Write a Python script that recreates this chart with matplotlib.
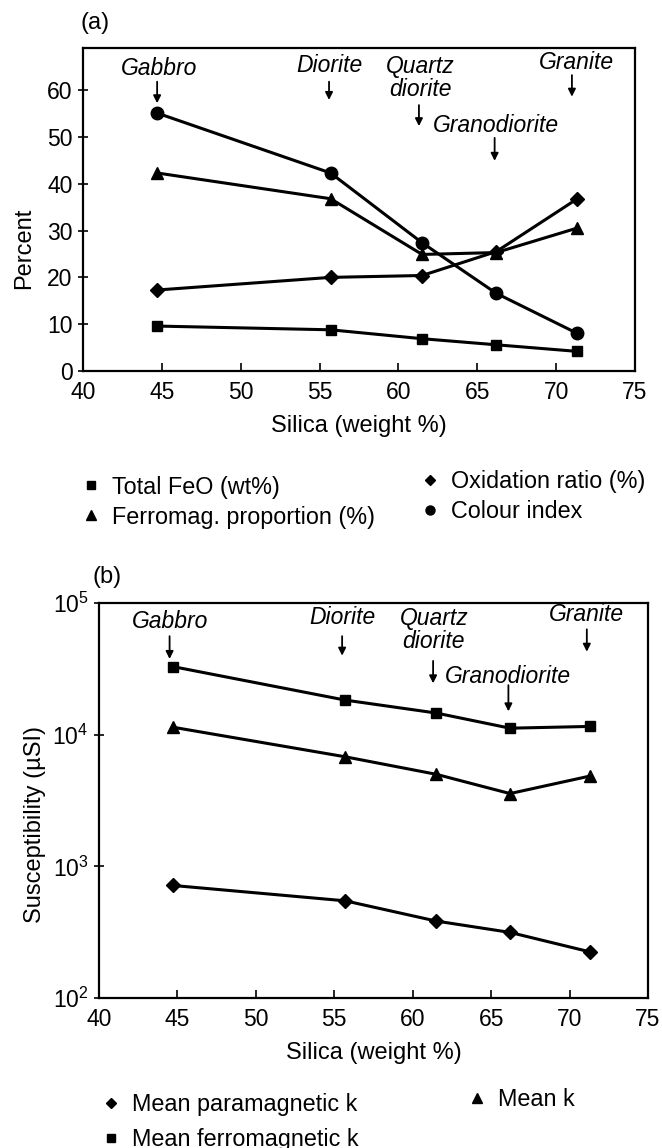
import matplotlib
matplotlib.use("Agg")
import matplotlib.pyplot as plt
from matplotlib.lines import Line2D
from matplotlib.ticker import NullLocator, LogLocator

plt.rcParams['font.family'] = ['Liberation Sans', 'DejaVu Sans']
plt.rcParams['mathtext.fontset'] = 'custom'
plt.rcParams['mathtext.rm'] = 'Liberation Sans'
plt.rcParams['mathtext.it'] = 'Liberation Sans:italic'

# ---------------- data ----------------
silica = [44.7, 55.7, 61.5, 66.2, 71.3]
rocks = ["Gabbro", "Diorite", "Quartz\ndiorite", "Granodiorite", "Granite"]

# panel (a)
total_feo = [9.6, 8.8, 6.9, 5.6, 4.2]
ferromag_prop = [42.3, 36.8, 24.9, 25.3, 30.5]
oxidation_ratio = [17.3, 20.0, 20.4, 25.5, 36.7]
colour_index = [55.1, 42.3, 27.4, 16.6, 8.1]

# panel (b)
mean_para_k = [716, 547, 384, 315, 224]
mean_k = [11400, 6790, 5000, 3570, 4850]
mean_ferro_k = [32900, 18300, 14600, 11200, 11550]

x_ticks = [40, 45, 50, 55, 60, 65, 70, 75]
y_ticks_a = [0, 10, 20, 30, 40, 50, 60]

# annotation layout (text x, text y, arrow start y, arrow end y)
ann_a = [(44.8, 64.6, 61.8, 57.2),
         (55.6, 65.3, 61.8, 57.9),
         (61.4, 62.6, 56.8, 52.3),
         (66.2, 52.4, 49.8, 44.9),
         (71.3, 66.0, 63.2, 58.6)]
ann_a_arrow_x = [44.7, 55.6, 61.3, 66.1, 71.0]
ann_b = [(44.5, 4.862, 4.748, 4.575),
         (55.5, 4.888, 4.748, 4.600),
         (61.35, 4.795, 4.56, 4.39),
         (66.1, 4.44, 4.376, 4.177),
         (71.1, 4.915, 4.80, 4.63)]
ann_b_arrow_x = [44.5, 55.5, 61.3, 66.1, 71.1]

W, H = 662, 1148
fig = plt.figure(figsize=(W / 100, H / 100), dpi=100)

def fx(px):
    return px / W

def fy(py):
    return 1 - py / H

FS_TICK = 16.5
FS_LAB = 17
FS_ANN = 16.5
FS_LEG = 16.8

axa = fig.add_axes([fx(83), fy(371), fx(635 - 83), (371 - 48) / H])
axb = fig.add_axes([fx(99), fy(998), fx(648 - 99), (998 - 603) / H])

lw = 2.2
axa.plot(silica, total_feo, color='k', lw=lw, marker='s', ms=7.5)
axa.plot(silica, ferromag_prop, color='k', lw=lw, marker='^', ms=9)
axa.plot(silica, oxidation_ratio, color='k', lw=lw, marker='D', ms=7)
axa.plot(silica, colour_index, color='k', lw=lw, marker='o', ms=9)

axb.plot(silica, mean_para_k, color='k', lw=lw, marker='D', ms=7)
axb.plot(silica, mean_k, color='k', lw=lw, marker='^', ms=9)
axb.plot(silica, mean_ferro_k, color='k', lw=lw, marker='s', ms=7.5)

for ax in (axa, axb):
    ax.set_xlim(40, 75)
    ax.set_xticks(x_ticks)
    for s in ax.spines.values():
        s.set_linewidth(1.6)
    ax.tick_params(axis='x', direction='in', length=6, width=1.2,
                   labelsize=FS_TICK, pad=7)
    ax.tick_params(axis='y', direction='inout', length=7, width=1.2,
                   labelsize=FS_TICK, pad=4)
    ax.set_xlabel("Silica (weight %)", fontsize=FS_LAB, labelpad=8)

axa.set_ylim(0, 69)
axa.set_yticks(y_ticks_a)
axa.set_ylabel("Percent", fontsize=FS_LAB)
axa.yaxis.set_label_coords(-0.086, 0.38)

axb.set_yscale('log')
axb.set_ylim(1e2, 1e5)
axb.yaxis.set_major_locator(LogLocator(base=10, numticks=10))
axb.yaxis.set_minor_locator(NullLocator())
axb.set_ylabel("Susceptibility (µSI)", fontsize=FS_LAB)
axb.yaxis.set_label_coords(-0.096, 0.44)

arrowprops = dict(arrowstyle='-|>', color='k', lw=1.3, mutation_scale=11,
                  shrinkA=0, shrinkB=0)
for name, (tx, ty, y0, y1), axx in zip(rocks, ann_a, ann_a_arrow_x):
    axa.text(tx, ty, name, ha='center', va='center', fontsize=FS_ANN,
             style='italic', linespacing=1.0)
    axa.annotate('', xy=(axx, y1), xytext=(axx, y0), arrowprops=arrowprops)
for name, (tx, ty, y0, y1), axx in zip(rocks, ann_b, ann_b_arrow_x):
    axb.text(tx, 10 ** ty, name, ha='center', va='center', fontsize=FS_ANN,
             style='italic', linespacing=1.0)
    axb.annotate('', xy=(axx, 10 ** y1), xytext=(axx, 10 ** y0),
                 arrowprops=arrowprops)

fig.text(fx(80), fy(23), "(a)", fontsize=FS_LAB, ha='left', va='center')
fig.text(fx(92), fy(577), "(b)", fontsize=FS_LAB, ha='left', va='center')

def proxy(m, ms):
    return Line2D([], [], color='k', marker=m, ms=ms, ls='none')

leg_kw = dict(frameon=False, fontsize=FS_LEG, handlelength=0.8,
              handletextpad=0.5, borderpad=0, borderaxespad=0,
              loc='center left')

fig.legend([proxy('s', 5.5), proxy('^', 6.5)],
           ["Total FeO (wt%)", "Ferromag. proportion (%)"],
           bbox_to_anchor=(fx(82), fy(502)), labelspacing=0.3, **leg_kw)
fig.legend([proxy('D', 5.5), proxy('o', 6.5)],
           ["Oxidation ratio (%)", "Colour index"],
           bbox_to_anchor=(fx(421), fy(497)), labelspacing=0.3, **leg_kw)
fig.legend([proxy('D', 5.5), proxy('s', 5.5)],
           ["Mean paramagnetic k", "Mean ferromagnetic k"],
           bbox_to_anchor=(fx(102), fy(1122)), labelspacing=0.5, **leg_kw)
fig.legend([proxy('^', 6.5)], ["Mean k"],
           bbox_to_anchor=(fx(468), fy(1100)), **leg_kw)

fig.savefig("out.png", dpi=100)
